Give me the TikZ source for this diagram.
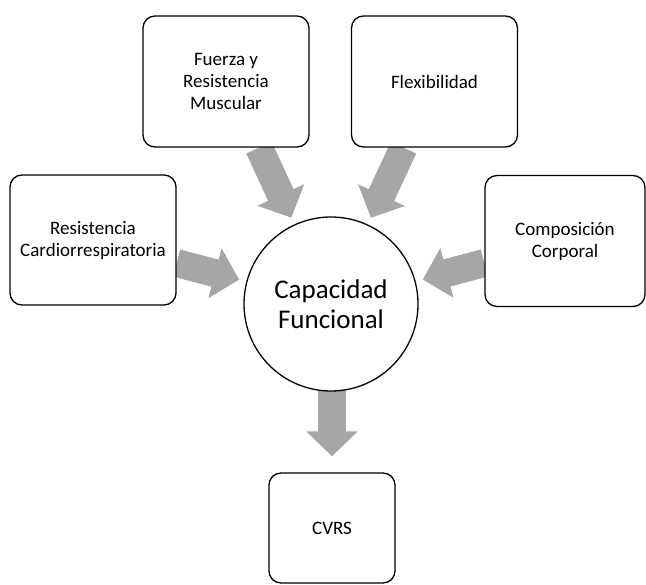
\documentclass[tikz,border=0pt]{standalone}
\usepackage{fontspec}
\setmainfont{Carlito}
\usetikzlibrary{arrows.meta,calc,backgrounds}
\definecolor{arrowgray}{HTML}{A6A6A6}
\begin{document}
\begin{tikzpicture}[x=1pt,y=-1pt,
  box/.style={draw=black, line width=1.3pt, rounded corners=12pt, fill=white,
    minimum width=166pt, minimum height=131pt, align=center,
    font=\fontsize{19}{22}\selectfont, inner sep=0pt},
  hub/.style={circle, draw=black, line width=1.3pt, fill=white,
    minimum size=174pt, align=center, font=\fontsize{27}{30}\selectfont, inner sep=0pt},
  bigarrow/.style={draw=arrowgray, line width=28pt,
    -{Triangle[width=50pt,length=25pt]}}]
\useasboundingbox (0,0) rectangle (646,585);
\node[box] (fuerza) at (226,81.5) {Fuerza y\\Resistencia\\Muscular};
\node[box] (flex) at (434.5,81.5) {Flexibilidad};
\node[box, minimum height=130pt] (resis) at (93,240) {Resistencia\\Cardiorrespiratoria};
\node[box, minimum width=160pt] (comp) at (565,241) {Composición\\Corporal};
\node[hub] (cap) at (331,304) {Capacidad\\Funcional};
\node[box, minimum width=126pt, minimum height=110pt] (cvrs) at (332,528) {\raisebox{-7pt}{CVRS}};
\begin{scope}[on background layer]
  \coordinate (s1) at ($(fuerza.south)+(33,0)$);
  \coordinate (s2) at ($(flex.south)+(-31,0)$);
  \coordinate (s3) at ($(resis.east)+(0,23)$);
  \coordinate (s4) at ($(comp.west)+(0,22)$);
  \coordinate (s5) at ($(cvrs.north |- cap.south)+(0,-4)$);
  \draw[bigarrow] (s1) -- ($(cap.center)!95pt!(s1)$);
  \draw[bigarrow] (s2) -- ($(cap.center)!95pt!(s2)$);
  \draw[bigarrow] (s3) -- ($(cap.center)!95pt!(s3)$);
  \draw[bigarrow] (s4) -- ($(cap.center)!95pt!(s4)$);
  \draw[bigarrow] (s5) -- ($(cvrs.north)+(0,-16)$);
\end{scope}
\end{tikzpicture}
\end{document}
